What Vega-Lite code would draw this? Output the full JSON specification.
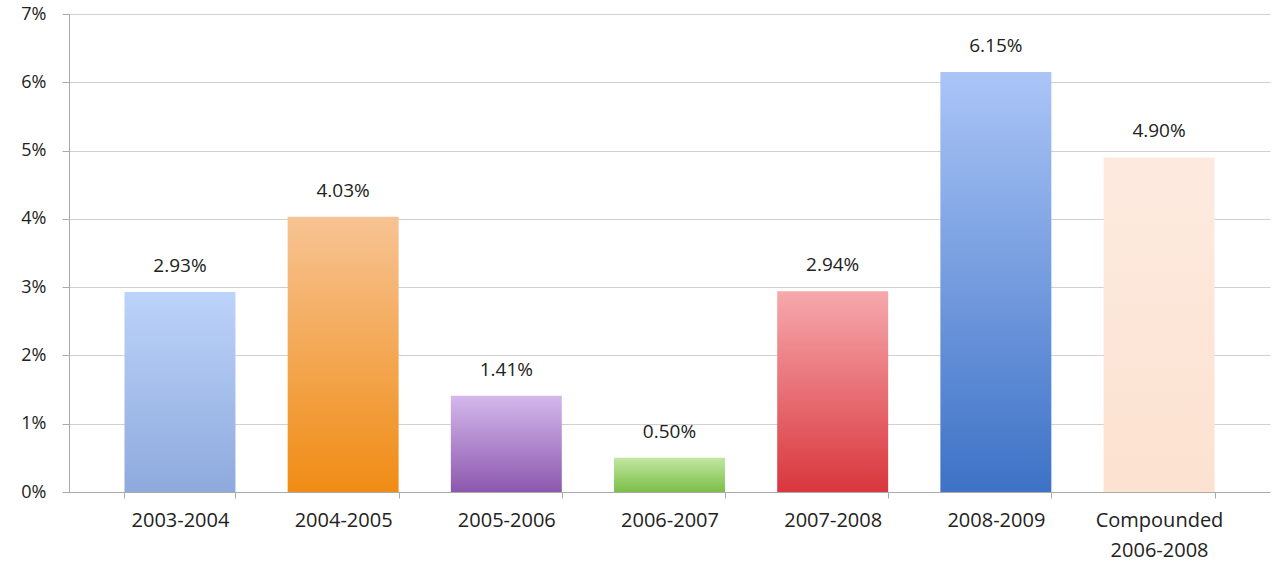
{
  "$schema": "https://vega.github.io/schema/vega-lite/v6.json",
  "width": 1272,
  "height": 565,
  "autosize": {"type": "fit", "contains": "padding"},
  "padding": {"left": 20, "right": 2, "top": 5, "bottom": 5},
  "background": "white",
  "config": {"view": {"stroke": null}, "font": "Open Sans"},
  "data": {
    "values": [
      {"period": "2003-2004", "value": 0.0293, "label": "2.93%"},
      {"period": "2004-2005", "value": 0.0403, "label": "4.03%"},
      {"period": "2005-2006", "value": 0.0141, "label": "1.41%"},
      {"period": "2006-2007", "value": 0.005, "label": "0.50%"},
      {"period": "2007-2008", "value": 0.0294, "label": "2.94%"},
      {"period": "2008-2009", "value": 0.0615, "label": "6.15%"},
      {"period": "Compounded 2006-2008", "value": 0.049, "label": "4.90%"}
    ]
  },
  "encoding": {
    "x": {"field": "period", "type": "nominal", "sort": null, "title": null,
      "scale": {"paddingInner": 0.32, "paddingOuter": 0.34},
      "axis": {"labelAngle": 0, "labelFontSize": 20, "labelColor": "#222", "labelPadding": 12,
        "labelExpr": "datum.label == 'Compounded 2006-2008' ? ['Compounded', '2006-2008'] : datum.label",
        "domainColor": "#aaa", "tickColor": "#aaa", "tickBand": "extent", "tickSize": 6, "labelLineHeight": 30}},
    "y": {"field": "value", "type": "quantitative", "title": null,
      "scale": {"domain": [0, 0.07]},
      "axis": {"format": ".0%", "tickCount": 7, "labelFontSize": 18, "labelColor": "#222", "labelPadding": 16,
        "gridColor": "#d0d0d0", "domainColor": "#aaa", "tickColor": "#aaa", "tickSize": 7}}
  },
  "layer": [
    {"transform": [{"filter": "datum.period == '2003-2004'"}],
     "mark": {"type": "bar", "color": {"gradient": "linear", "x1": 0, "y1": 0, "x2": 0, "y2": 1, "stops": [{"offset": 0, "color": "#bcd3fa"}, {"offset": 1, "color": "#8eaadd"}]}}},
    {"transform": [{"filter": "datum.period == '2004-2005'"}],
     "mark": {"type": "bar", "color": {"gradient": "linear", "x1": 0, "y1": 0, "x2": 0, "y2": 1, "stops": [{"offset": 0, "color": "#f7c393"}, {"offset": 1, "color": "#f08c14"}]}}},
    {"transform": [{"filter": "datum.period == '2005-2006'"}],
     "mark": {"type": "bar", "color": {"gradient": "linear", "x1": 0, "y1": 0, "x2": 0, "y2": 1, "stops": [{"offset": 0, "color": "#d4b8ec"}, {"offset": 1, "color": "#8c58ae"}]}}},
    {"transform": [{"filter": "datum.period == '2006-2007'"}],
     "mark": {"type": "bar", "color": {"gradient": "linear", "x1": 0, "y1": 0, "x2": 0, "y2": 1, "stops": [{"offset": 0, "color": "#c2e6a2"}, {"offset": 1, "color": "#7cbf48"}]}}},
    {"transform": [{"filter": "datum.period == '2007-2008'"}],
     "mark": {"type": "bar", "color": {"gradient": "linear", "x1": 0, "y1": 0, "x2": 0, "y2": 1, "stops": [{"offset": 0, "color": "#f6a9ad"}, {"offset": 1, "color": "#d9363d"}]}}},
    {"transform": [{"filter": "datum.period == '2008-2009'"}],
     "mark": {"type": "bar", "color": {"gradient": "linear", "x1": 0, "y1": 0, "x2": 0, "y2": 1, "stops": [{"offset": 0, "color": "#abc5f7"}, {"offset": 1, "color": "#3d72c6"}]}}},
    {"transform": [{"filter": "datum.period == 'Compounded 2006-2008'"}],
     "mark": {"type": "bar", "color": {"gradient": "linear", "x1": 0, "y1": 0, "x2": 0, "y2": 1, "stops": [{"offset": 0, "color": "#fdeadf"}, {"offset": 1, "color": "#fce2d0"}]}}},
    {"mark": {"type": "text", "dy": -26, "fontSize": 19, "color": "#222"},
     "encoding": {"text": {"field": "label"}}}
  ]
}
